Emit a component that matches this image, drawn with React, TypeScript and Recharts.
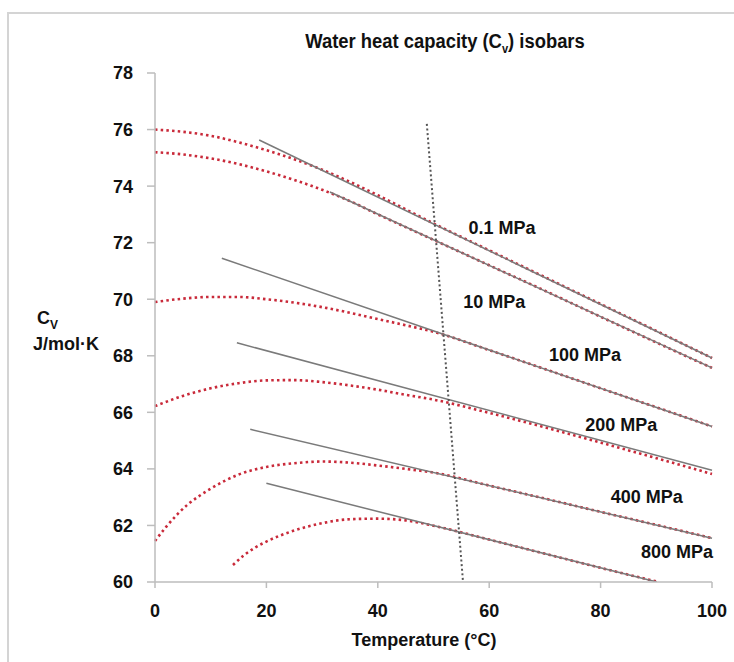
import React from 'react';
import { LineChart, Line, XAxis, YAxis, ReferenceDot } from 'recharts';

// ---- data ----
const xTicks = [0, 20, 40, 60, 80, 100];
const yTicks = [60, 62, 64, 66, 68, 70, 72, 74, 76, 78];

const tempsA = [0, 5, 10, 15, 20, 25, 30, 35, 40, 45, 50, 60, 70, 80, 90, 100];
const cv01 = [76.0, 75.92, 75.78, 75.55, 75.27, 74.95, 74.58, 74.15, 73.68, 73.18, 72.68, 71.73, 70.78, 69.83, 68.88, 67.92];
const cv10 = [75.2, 75.12, 74.98, 74.78, 74.52, 74.22, 73.87, 73.47, 73.0, 72.55, 72.1, 71.2, 70.3, 69.38, 68.47, 67.57];
const cv100 = [69.9, 70.02, 70.08, 70.08, 70.0, 69.88, 69.72, 69.52, 69.3, 69.08, 68.85, 68.2, 67.53, 66.85, 66.18, 65.5];
const cv200 = [66.22, 66.58, 66.85, 67.03, 67.13, 67.14, 67.07, 66.95, 66.8, 66.62, 66.45, 65.98, 65.47, 64.93, 64.38, 63.82];

const temps400 = [0, 2, 4, 6, 8, 10, 15, 20, 25, 30, 35, 40, 45, 50, 60, 70, 80, 90, 100];
const cv400 = [61.45, 61.95, 62.39, 62.76, 63.05, 63.3, 63.8, 64.07, 64.2, 64.26, 64.22, 64.12, 64.0, 63.87, 63.41, 62.95, 62.48, 62.02, 61.55];

const temps800 = [14, 16, 18, 20, 25, 30, 35, 40, 45, 50, 60, 70, 80, 90];
const cv800 = [60.6, 60.95, 61.22, 61.43, 61.82, 62.08, 62.22, 62.24, 62.18, 61.99, 61.5, 61.0, 60.5, 60.02];

// linear fits: [startT, startCv, endT, endCv]
const fit01 = [18.7, 75.63, 100, 67.92];
const fit10 = [31.4, 73.79, 100, 67.57];
const fit100 = [12, 71.45, 100, 65.5];
const fit200 = [14.7, 68.46, 100, 63.95];
const fit400 = [17.1, 65.4, 100, 61.55];
const fit800 = [20, 63.49, 90.1, 60.0];

// near-vertical dotted line
const markerT = [48.8, 55.3];
const markerCv = [76.2, 60.0];

const labelNames = ['0.1 MPa', '10 MPa', '100 MPa', '200 MPa', '400 MPa', '800 MPa'];
const labelT = [62.3, 60.9, 77.2, 83.7, 88.3, 93.7];
const labelCv = [72.52, 69.9, 68.03, 65.55, 63.0, 61.06];

// ---- helpers ----
const toSeries = (ts: number[], vs: number[]) => ts.map((t, i) => ({ t, v: vs[i] }));
const fitSeries = (f: number[]) => [{ t: f[0], v: f[1] }, { t: f[2], v: f[3] }];

const curves = [
  toSeries(tempsA, cv01),
  toSeries(tempsA, cv10),
  toSeries(tempsA, cv100),
  toSeries(tempsA, cv200),
  toSeries(temps400, cv400),
  toSeries(temps800, cv800),
];
const fits = [fit01, fit10, fit100, fit200, fit400, fit800].map(fitSeries);
const marker = toSeries(markerT, markerCv);

const FONT = "'Liberation Sans', Arial, sans-serif";

const MpaLabel = (props: any) => {
  const vb = props.viewBox || {};
  const cx = (vb.x ?? 0) + (vb.width ?? 0) / 2;
  const cy = (vb.y ?? 0) + (vb.height ?? 0) / 2;
  return (
    <text x={cx} y={cy} textAnchor="middle" dominantBaseline="central"
      fontFamily={FONT} fontWeight="bold" fontSize={18} fill="#111">
      {props.text}
    </text>
  );
};

export default function App() {
  return (
    <div style={{ position: 'absolute', left: 0, top: 0, width: 734, height: 662, background: '#fff', overflow: 'hidden' }}>
      <div style={{ position: 'absolute', left: 7, top: 12, width: 760, height: 700, borderLeft: '2px solid #d4d4d4', borderTop: '2px solid #d4d4d4' }} />
      <div style={{ position: 'absolute', left: 0, top: 0 }}>
        <LineChart width={734} height={662} margin={{ top: 73, right: 22, bottom: 50, left: 95 }}>
          <XAxis type="number" dataKey="t" domain={[0, 100]} ticks={xTicks} height={30}
            axisLine={{ stroke: '#bdbdbd', strokeWidth: 1.5 }} tickLine={{ stroke: '#bdbdbd', strokeWidth: 1.5 }}
            tickSize={6} tickMargin={16}
            tick={{ fontFamily: FONT, fontWeight: 'bold', fontSize: 18, fill: '#111' }} />
          <YAxis type="number" domain={[60, 78]} ticks={yTicks} width={60} allowDataOverflow
            axisLine={{ stroke: '#bdbdbd', strokeWidth: 1.5 }} tickLine={{ stroke: '#bdbdbd', strokeWidth: 1.5 }}
            tickSize={8} tickMargin={14}
            tick={{ fontFamily: FONT, fontWeight: 'bold', fontSize: 18, fill: '#111' }} />
          {curves.map((d, i) => (
            <Line key={'c' + i} data={d} dataKey="v" type="monotone" stroke="#c92a3a" strokeWidth={2.6}
              strokeDasharray="2.5 3.2" dot={false} activeDot={false} isAnimationActive={false} />
          ))}
          {fits.map((d, i) => (
            <Line key={'f' + i} data={d} dataKey="v" type="linear" stroke="#7a7a7a" strokeWidth={1.5}
              dot={false} activeDot={false} isAnimationActive={false} />
          ))}
          <Line data={marker} dataKey="v" type="linear" stroke="#555" strokeWidth={2}
            strokeDasharray="2 2.6" dot={false} activeDot={false} isAnimationActive={false} />
          {labelNames.map((name, i) => (
            <ReferenceDot key={'l' + i} x={labelT[i]} y={labelCv[i]} r={0} ifOverflow="visible"
              fill="none" stroke="none" label={<MpaLabel text={name} />} />
          ))}
        </LineChart>
      </div>
      <div style={{ position: 'absolute', left: 245, top: 30, width: 400, textAlign: 'center', fontFamily: FONT, fontWeight: 'bold', fontSize: 20, color: '#111', whiteSpace: 'nowrap', transform: 'scaleX(0.92)', transformOrigin: '50% 50%' }}>
        Water heat capacity (C<sub style={{ fontSize: 12 }}>v</sub>) isobars
      </div>
      <div style={{ position: 'absolute', left: 37, top: 308, fontFamily: FONT, fontWeight: 'bold', fontSize: 18, color: '#111', whiteSpace: 'nowrap' }}>
        C<sub style={{ fontSize: 12 }}>V</sub>
      </div>
      <div style={{ position: 'absolute', left: 33, top: 334, fontFamily: FONT, fontWeight: 'bold', fontSize: 18, color: '#111', whiteSpace: 'nowrap' }}>
        J/mol·K
      </div>
      <div style={{ position: 'absolute', left: 274, top: 630, width: 300, textAlign: 'center', fontFamily: FONT, fontWeight: 'bold', fontSize: 18, color: '#111', whiteSpace: 'nowrap' }}>
        Temperature (°C)
      </div>
    </div>
  );
}
